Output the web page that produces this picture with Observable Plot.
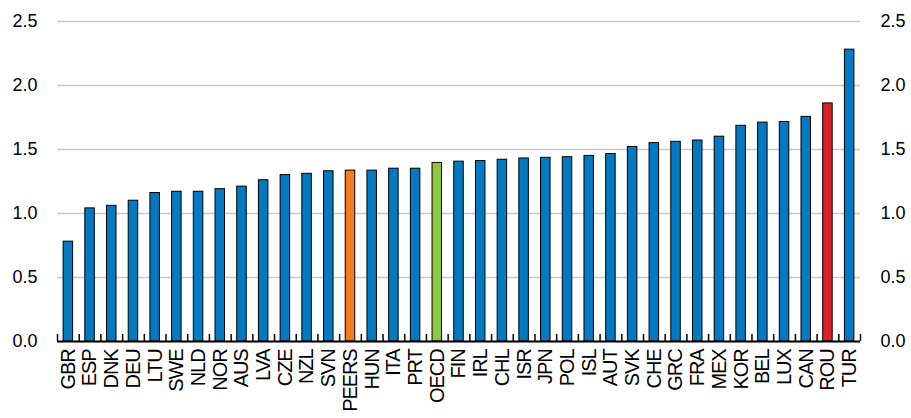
<!DOCTYPE html>
<html>
<head>
<meta charset="utf-8">
<script src="https://cdn.jsdelivr.net/npm/d3@7"></script>
<script src="https://cdn.jsdelivr.net/npm/@observablehq/plot@0.6"></script>
<style>
  html, body { margin: 0; padding: 0; background: #fff; }
  svg { font-family: "Liberation Sans", Arial, sans-serif; }
  g[aria-label="x-axis tick label"] text { letter-spacing: -1.1px; }
</style>
</head>
<body>
<div id="chart"></div>
<script>
const categories = ["GBR","ESP","DNK","DEU","LTU","SWE","NLD","NOR","AUS","LVA","CZE","NZL","SVN","PEERS","HUN","ITA","PRT","OECD","FIN","IRL","CHL","ISR","JPN","POL","ISL","AUT","SVK","CHE","GRC","FRA","MEX","KOR","BEL","LUX","CAN","ROU","TUR"];
const values = [0.78,1.04,1.06,1.10,1.16,1.17,1.17,1.19,1.21,1.26,1.30,1.31,1.33,1.335,1.335,1.35,1.35,1.395,1.405,1.41,1.42,1.43,1.435,1.44,1.45,1.465,1.52,1.55,1.56,1.57,1.60,1.685,1.71,1.715,1.755,1.86,2.28];
const highlight = {PEERS: "#F47D20", OECD: "#8DC63F", ROU: "#DA2128"};
const baseColor = "#0279C1";
const yTicks = [0, 0.5, 1.0, 1.5, 2.0, 2.5];

const data = categories.map((c, i) => ({cat: c, value: values[i], color: highlight[c] || baseColor}));

const W = 911, H = 418, ML = 57, MR = 51, MT = 21, MB = 77;
const step = (W - ML - MR) / categories.length;

const chart = Plot.plot({
  width: W,
  height: H,
  marginLeft: ML,
  marginRight: MR,
  marginTop: MT,
  marginBottom: MB,
  style: {fontFamily: "'Liberation Sans', Arial, sans-serif", fontSize: "18px", color: "#000", background: "#fff"},
  x: {domain: categories, padding: 0, round: false, label: null},
  y: {domain: [0, 2.5], label: null},
  marks: [
    Plot.gridY(yTicks, {stroke: "#c8c8c8", strokeOpacity: 1, strokeWidth: 1.5}),
    Plot.barY(data, {x: "cat", y: "value", fill: "color", stroke: "#000", strokeWidth: 1, insetLeft: 6.1, insetRight: 6.1}),
    Plot.ruleY([0], {stroke: "#000", strokeWidth: 2}),
    Plot.ruleX(categories, {x: d => d, y1: 0, y2: 0.055, dx: -step / 2, stroke: "#000", strokeWidth: 1.5}),
    Plot.ruleX([categories[categories.length - 1]], {x: d => d, y1: 0, y2: 0.055, dx: step / 2, stroke: "#000", strokeWidth: 1.5}),
    Plot.axisX({tickSize: 0, tickRotate: -90, tickPadding: 8, fontSize: 20, label: null}),
    Plot.axisY(yTicks, {anchor: "left", tickSize: 0, tickPadding: 20, tickFormat: d3.format(".1f"), fontSize: 18, label: null}),
    Plot.axisY(yTicks, {anchor: "right", tickSize: 0, tickPadding: 20, tickFormat: d3.format(".1f"), fontSize: 18, label: null})
  ]
});
document.getElementById("chart").appendChild(chart);
</script>
</body>
</html>
